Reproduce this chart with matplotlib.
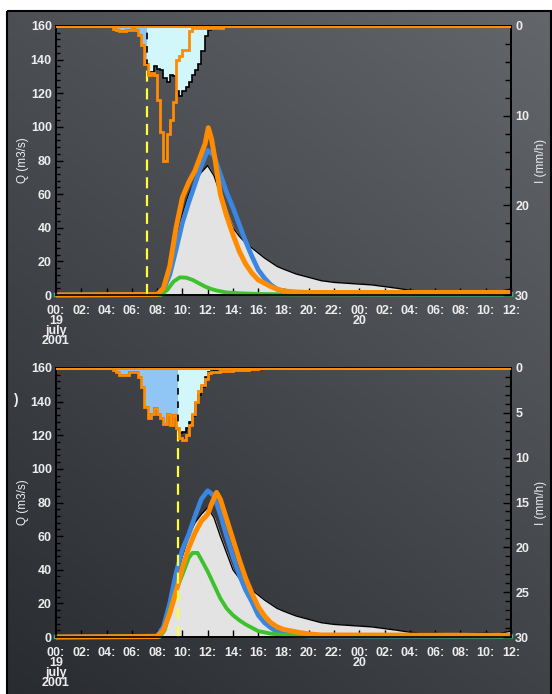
import numpy as np
import matplotlib.pyplot as plt
from matplotlib.patches import Rectangle
from matplotlib.ticker import MultipleLocator

plt.rcParams['font.family'] = ['Liberation Sans', 'DejaVu Sans']
plt.rcParams['font.weight'] = 'bold'

# hours from 00:00 on 19 july 2001
q_obs_t = [0, 8.1, 8.5, 9.0, 9.5, 10.0, 10.5, 11.0, 11.5, 12.0, 12.5, 13.0, 13.5, 14.0, 14.5,
           15.0, 15.5, 16.0, 16.5, 17.0, 17.5, 18.0, 19.0, 20.0, 21.0, 22.0, 23.0, 24.0, 25.0,
           26.0, 27.0, 28.0, 29.0, 30.0, 31.0, 32.0, 33.0, 34.0, 35.0, 36.0]
q_obs = [0, 0, 4, 14, 34, 48, 60, 68, 73, 77, 71, 60, 50, 40, 35, 31, 28, 25, 22, 19.5,
         17, 15.4, 12.5, 10.5, 8.5, 7.5, 7, 6.5, 6, 5, 4, 2.8, 2.3, 2.2, 2.0, 2.0, 2.2, 2.5, 2.0, 3.5]

# panel 1 simulations
q1_blue_t = [0, 8.0, 8.5, 9.0, 9.5, 10.0, 10.5, 11.0, 11.5, 12.0, 12.5, 13.0, 13.5, 14.0, 14.5,
             15.0, 15.5, 16.0, 16.5, 17.0, 17.5, 18.0, 19.0, 20.0, 24.0, 36.0]
q1_blue = [0, 0.3, 3, 12, 27, 43, 55, 66, 77, 86, 83, 72, 61, 52, 42, 32, 23, 15, 10, 6,
           3.5, 2.2, 1.5, 1.0, 0.7, 0.5]
q1_orange_t = [0, 8.0, 8.5, 9.0, 9.5, 10.0, 10.5, 11.0, 11.5, 11.8, 12.05, 12.3, 12.6, 13.0,
               13.5, 14.0, 14.5, 15.0, 15.5, 16.0, 16.5, 17.0, 17.5, 18.0, 19.0, 20.0, 36.0]
q1_orange = [0, 0.3, 4, 17, 40, 58, 67, 74, 84, 90, 99.5, 93, 80, 60, 47, 36, 26, 18.5, 13,
             9, 7, 5, 3.5, 2.4, 1.8, 1.5, 1.5]
q1_green_t = [0, 8.3, 8.8, 9.3, 9.8, 10.3, 10.8, 11.3, 11.8, 12.3, 12.8, 13.5, 14.5, 16.0, 18.0, 36.0]
q1_green = [0, 0, 3, 8, 10.5, 10.3, 9, 7, 5, 3.5, 2.5, 1.5, 1.0, 0.6, 0.4, 0.3]

# panel 2 simulations
q2_blue_t = [0, 8.0, 8.5, 9.0, 9.5, 10.0, 10.5, 11.0, 11.5, 12.0, 12.5, 13.0, 13.5, 14.0, 14.5,
             15.0, 15.5, 16.0, 16.5, 17.0, 17.5, 18.0, 19.0, 20.0, 36.0]
q2_blue = [0, 0.5, 6, 20, 38, 52, 61, 72, 82, 87, 84, 73, 60, 48, 37, 28, 21, 13, 8.5, 5.5,
           3, 2, 1, 0.6, 0.5]
q2_orange_t = [0, 8.0, 8.5, 9.0, 9.5, 10.0, 10.5, 11.0, 11.5, 12.0, 12.3, 12.7, 13.0, 13.5,
               14.0, 14.5, 15.0, 15.5, 16.0, 16.5, 17.0, 17.5, 18.0, 19.0, 20.0, 21.0, 36.0]
q2_orange = [0, 0.3, 4, 14, 27, 41, 53, 62, 69, 73, 79, 86, 82, 70, 58, 46, 35, 26, 18, 12.5,
             8.5, 6, 4.5, 3, 1.8, 1.2, 1.0]
q2_green_t = [0, 8.2, 8.6, 9.0, 9.5, 10.0, 10.5, 10.8, 11.2, 11.5, 12.0, 12.5, 13.0, 13.5, 14.0,
              14.5, 15.0, 16.0, 17.0, 18.0, 20.0, 36.0]
q2_green = [0, 0, 4, 16, 28, 37, 47, 50, 50, 46, 39, 31, 23, 17, 13, 10, 7.5, 3.5, 2, 1.2, 0.5, 0.3]

# rainfall, 15 min steps starting at 04:30
rain_start = 4.5
rain_step = 0.25
obs_rain1 = [0.3, 0.5, 0.6, 0.6, 0.5, 0.4, 0.3, 0.4, 1.0, 2.1, 4.2, 5.3, 5.1, 4.5, 4.8, 4.9,
             5.8, 6.2, 5.5, 5.6, 7.2, 7.8, 7.3, 6.8, 6.2, 5.5, 4.9, 4.2, 2.8, 1.1, 0.5, 0.3,
             0.3, 0.3, 0.2, 0.15]
fc_rain1 = obs_rain1[:10] + [4.2, 5.5, 5.2, 5.5, 8.3, 11.8, 15.0, 12.0, 10.5, 8.5, 3.8, 3.4,
                             2.7, 2.7, 0.6, 0.26, 0.26, 0.26, 0.26, 0.26, 0.26, 0.26, 0.26,
                             0.26, 0.26, 0.0]
obs_rain2 = [0.2, 0.4, 0.8, 0.8, 0.8, 0.4, 0.4, 0.4, 1.0, 2.1, 4.3, 5.6, 5.1, 4.5, 5.1, 5.6,
             6.2, 5.1, 6.4, 5.2, 6.7, 7.3, 7.1, 6.7, 6.0, 5.4, 3.9, 3.0, 2.1, 1.0, 0.4, 0.3,
             0.2] + [0.0] * 13
fc_rain2 = obs_rain2[:21] + [7.8, 8.0, 7.5, 6.4, 5.1, 3.8, 2.6, 1.9, 1.2, 0.6, 0.5, 0.4, 0.4,
                             0.3, 0.3, 0.3, 0.3, 0.2, 0.2, 0.2, 0.2, 0.2, 0.15, 0.1, 0.1]

forecast_time1 = 7.17
forecast_time2 = 9.68

tick_hours = list(range(0, 37, 2))
tick_labels = ['00:\n19\njuly\n2001', '02:', '04:', '06:', '08:', '10:', '12:', '14:', '16:',
               '18:', '20:', '22:', '00:\n20', '02:', '04:', '06:', '08:', '10:', '12:']

TXT = '#ededed'
ORANGE = '#ff8c00'
BLUE = '#3a86e0'
GREEN = '#3dc22e'

W, H = 552, 694
fig = plt.figure(figsize=(W / 100, H / 100), dpi=100, facecolor='white')

# dark backdrop, lighter towards the top right
bg = fig.add_axes([0, 0, 1, 1], zorder=-10)
bg.set_xlim(0, W)
bg.set_ylim(H, 0)
bg.axis('off')
yy, xx = np.mgrid[0:1:200j, 0:1:200j]
v = 0.30 + 0.09 * xx - 0.14 * yy
img = np.dstack([v, v + 0.01, v + 0.03]).clip(0, 1)
bg.imshow(img, extent=(7, W, H, 11), aspect='auto', interpolation='bilinear')
bg.add_patch(Rectangle((7, 11), W - 8, H, fill=False, edgecolor='black', lw=1.5))
bg.text(15, 400, ')', color=TXT, fontsize=10, ha='center', va='center')


def draw_panel(rect, blue_t, blue, orange_t, orange, green_t, green,
               obs_rain, fc_rain, t_fc, rain_major, rain_minor):
    ax = fig.add_axes(rect)
    ax.set_facecolor('none')
    ax.fill_between(q_obs_t, 0, q_obs, color='#e3e3e3', zorder=1)
    ax.plot(q_obs_t, q_obs, color='black', lw=1.0, zorder=2)
    ax.plot(blue_t, blue, color=BLUE, lw=3.4, zorder=3, clip_on=False)
    ax.plot(green_t, green, color=GREEN, lw=2.8, zorder=4, clip_on=False)
    ax.plot(orange_t, orange, color=ORANGE, lw=3.6, zorder=5, clip_on=False,
            solid_capstyle='butt')
    ax.axvline(t_fc, color='#ffff3a', lw=1.6, dashes=(5, 3), zorder=6)
    ax.set_xlim(0, 36)
    ax.set_ylim(0, 160)
    ax.set_xticks(tick_hours)
    ax.set_xticklabels(tick_labels, linespacing=0.8)
    ax.yaxis.set_major_locator(MultipleLocator(20))
    ax.yaxis.set_minor_locator(MultipleLocator(4))
    ax.tick_params(axis='both', which='both', direction='in', colors='black',
                   labelcolor=TXT, labelsize=9, width=1)
    ax.tick_params(axis='y', which='major', length=5, pad=3)
    ax.tick_params(axis='y', which='minor', length=3)
    ax.tick_params(axis='x', length=5, pad=7)
    ax.set_ylabel('Q (m3/s)', color=TXT, fontsize=8.5, labelpad=1)
    for s in ax.spines.values():
        s.set_color('black')
        s.set_linewidth(1.2)

    ax2 = ax.twinx()
    ax2.set_ylim(30, 0)
    edges = rain_start + rain_step * np.arange(len(obs_rain) + 1)
    ax2.stairs(obs_rain, edges, fill=True, color='#d2f7fb', zorder=1)
    pre = ax2.stairs(obs_rain, edges, fill=True, color='#8fc6f5', zorder=2)
    pre.set_clip_path(Rectangle((0, -5), t_fc, 40, transform=ax2.transData))
    ax2.stairs(obs_rain, edges, color='black', lw=1.2, zorder=3)
    ax2.axhline(0, color=ORANGE, lw=2.2, zorder=4)
    ax2.stairs(fc_rain, edges, color=ORANGE, lw=2.0, zorder=5)
    i_fc = int((t_fc - rain_start) / rain_step)
    ax2.vlines(t_fc, 0, obs_rain[i_fc], color='black', lw=1.2, linestyles=(4, (4, 4)), zorder=6)
    ax2.yaxis.set_major_locator(MultipleLocator(rain_major))
    ax2.yaxis.set_minor_locator(MultipleLocator(rain_minor))
    ax2.tick_params(axis='y', which='both', direction='in', colors='black',
                    labelcolor=TXT, labelsize=9, width=1)
    ax2.tick_params(axis='y', which='major', length=6, pad=3)
    ax2.tick_params(axis='y', which='minor', length=4)
    ax2.set_ylabel('I (mm/h)', color=TXT, fontsize=8.5, labelpad=4)
    for s in ax2.spines.values():
        s.set_color('black')
        s.set_linewidth(1.2)
    return ax, ax2


draw_panel([56 / W, 1 - 295 / H, 455 / W, 269 / H], q1_blue_t, q1_blue, q1_orange_t, q1_orange,
           q1_green_t, q1_green, obs_rain1, fc_rain1, forecast_time1, 10, 2)
draw_panel([56 / W, 1 - 637 / H, 455 / W, 269 / H], q2_blue_t, q2_blue, q2_orange_t, q2_orange,
           q2_green_t, q2_green, obs_rain2, fc_rain2, forecast_time2, 5, 1)

fig.savefig('out.png', dpi=100, facecolor='white')
